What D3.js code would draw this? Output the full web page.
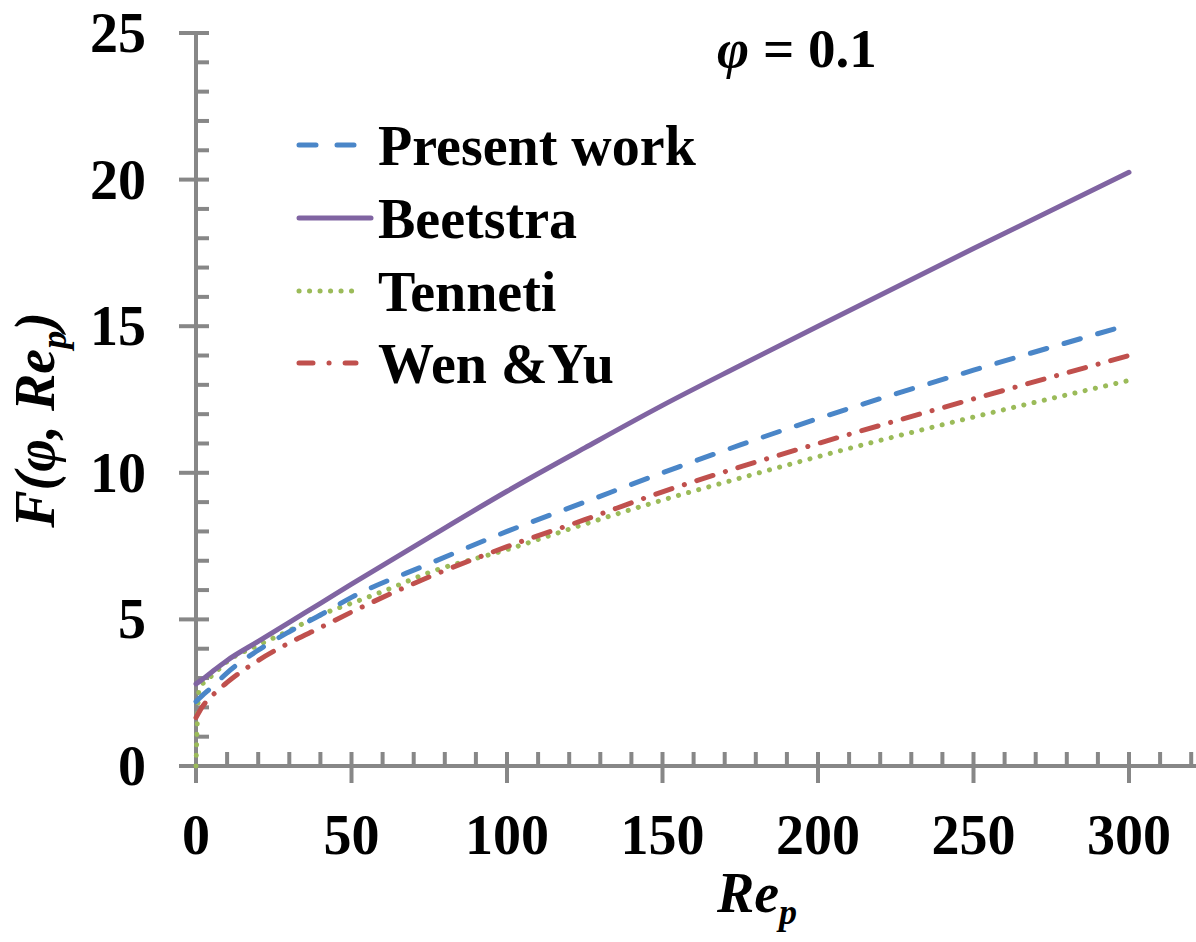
<!DOCTYPE html>
<html>
<head>
<meta charset="utf-8">
<script src="https://cdn.jsdelivr.net/npm/d3@7"></script>
<style>
  body { margin: 0; background: #fff; }
  text { font-family: "Liberation Serif", "Times New Roman", serif; font-weight: bold; fill: #000; }
</style>
</head>
<body>
<div class="chart"></div>
<script>
// Re_p values shared by three of the curves
var reGrid = [0, 2, 5, 10, 20, 30, 40, 50, 75, 100, 125, 150, 175, 200, 250, 300];
var presentWork = [2.2, 2.4, 2.68, 3.18, 3.95, 4.58, 5.15, 5.75, 6.9, 8.0, 9.0, 10.0, 10.95, 11.85, 13.5, 15.05];
var beetstra = [2.8, 2.95, 3.2, 3.6, 4.25, 4.9, 5.55, 6.2, 7.8, 9.37, 10.85, 12.3, 13.66, 15.0, 17.65, 20.25];
var wenYu = [1.65, 2.02, 2.38, 2.85, 3.6, 4.2, 4.72, 5.25, 6.45, 7.48, 8.4, 9.35, 10.2, 11.0, 12.52, 14.0];
// Tenneti has its own Re_p points (drops to 0 at Re_p = 0)
var reTenneti = [0, 1, 3, 5, 10, 20, 30, 40, 50, 60, 75, 100, 125, 150, 175, 200, 250, 300];
var tenneti = [0, 2.6, 2.9, 3.07, 3.56, 4.12, 4.62, 5.15, 5.55, 5.95, 6.6, 7.38, 8.25, 9.07, 9.82, 10.55, 11.9, 13.15];

var seriesNames = ["Present work", "Beetstra", "Tenneti", "Wen &Yu"];
var xTickLabels = [0, 50, 100, 150, 200, 250, 300];
var yTickLabels = [0, 5, 10, 15, 20, 25];

var width = 1196, height = 942;

var xScale = d3.scaleLinear().domain([0, 300]).range([196, 1129]);
var yScale = d3.scaleLinear().domain([0, 25]).range([766, 33]);

var canvas = d3.select(".chart").append("svg")
  .attr("width", width)
  .attr("height", height);

canvas.append("rect").attr("width", width).attr("height", height).attr("fill", "#fff");

var axisColor = "#878787";

// y axis: line, major ticks crossing, minor ticks on the right
var ya = canvas.append("g").attr("class", "y axis");
ya.append("line")
  .attr("x1", xScale(0)).attr("x2", xScale(0))
  .attr("y1", yScale(25)).attr("y2", yScale(0) + 17)
  .attr("stroke", axisColor).attr("stroke-width", 4);
ya.selectAll(".ymin").data(d3.range(0, 26)).enter().append("line")
  .attr("x1", function(d){ return d % 5 == 0 ? xScale(0) - 17 : xScale(0); })
  .attr("x2", xScale(0) + 13)
  .attr("y1", function(d){ return yScale(d); })
  .attr("y2", function(d){ return yScale(d); })
  .attr("stroke", axisColor).attr("stroke-width", 4);
ya.selectAll("text").data(yTickLabels).enter().append("text")
  .attr("x", 146)
  .attr("y", function(d){ return yScale(d) + 19; })
  .attr("text-anchor", "end")
  .attr("font-size", 56)
  .text(function(d){ return d; });

// x axis
var xa = canvas.append("g").attr("class", "x axis");
xa.append("line")
  .attr("x1", xScale(0) - 17).attr("x2", 1196)
  .attr("y1", yScale(0)).attr("y2", yScale(0))
  .attr("stroke", axisColor).attr("stroke-width", 4);
xa.selectAll(".xmin").data(d3.range(0, 321, 10)).enter().append("line")
  .attr("x1", function(d){ return xScale(d); })
  .attr("x2", function(d){ return xScale(d); })
  .attr("y1", yScale(0) - 14)
  .attr("y2", function(d){ return d % 50 == 0 ? yScale(0) + 17 : yScale(0); })
  .attr("stroke", axisColor).attr("stroke-width", 4);
xa.selectAll("text").data(xTickLabels).enter().append("text")
  .attr("x", function(d){ return xScale(d); })
  .attr("y", 854)
  .attr("text-anchor", "middle")
  .attr("font-size", 56)
  .text(function(d){ return d; });

// curves
var line = d3.line()
  .x(function(d){ return xScale(d[0]); })
  .y(function(d){ return yScale(d[1]); })
  .curve(d3.curveMonotoneX);

var styles = [
  {color: "#4A86C8", dash: "17,18"},
  {color: "#8064A2", dash: null},
  {color: "#9BBB59", dash: "0.1,10.4"},
  {color: "#C0504D", dash: "17,13,0.1,13"}
];

var curves = [
  d3.zip(reGrid, presentWork),
  d3.zip(reGrid, beetstra),
  d3.zip(reTenneti, tenneti),
  d3.zip(reGrid, wenYu)
];

// draw order: Tenneti, Wen & Yu, Present work, Beetstra on top
[2, 3, 0, 1].forEach(function(i){
  canvas.append("path")
    .datum(curves[i])
    .attr("d", line)
    .attr("fill", "none")
    .attr("stroke", styles[i].color)
    .attr("stroke-width", 5)
    .attr("stroke-linecap", "round")
    .attr("stroke-dasharray", styles[i].dash);
});

// legend
var legend = canvas.append("g").attr("class", "legend");
var legendY = [145, 218, 291, 363];
seriesNames.forEach(function(name, i){
  legend.append("line")
    .attr("x1", 299).attr("x2", i == 1 ? 371 : 356)
    .attr("y1", legendY[i]).attr("y2", legendY[i])
    .attr("stroke", styles[i].color)
    .attr("stroke-width", 5)
    .attr("stroke-linecap", "round")
    .attr("stroke-dasharray", i == 0 ? "17,21" : i == 2 ? "0.1,10.4" : i == 3 ? "14,16,0.1,16" : null);
  legend.append("text")
    .attr("x", 378)
    .attr("y", legendY[i] + 20)
    .attr("font-size", 56)
    .text(name);
});

// annotation
var ann = canvas.append("text")
  .attr("x", 717).attr("y", 67)
  .attr("font-size", 55);
ann.append("tspan").attr("font-style", "italic").text("\u03C6");
ann.append("tspan").text(" = 0.1");

// axis titles
var xt = canvas.append("text")
  .attr("x", 757).attr("y", 912)
  .attr("text-anchor", "middle")
  .attr("font-size", 56)
  .attr("font-style", "italic");
xt.append("tspan").text("Re");
xt.append("tspan").attr("font-size", 36).attr("dy", 12).text("p");

var yt = canvas.append("text")
  .attr("transform", "translate(54,420) rotate(-90)")
  .attr("text-anchor", "middle")
  .attr("font-size", 56)
  .attr("font-style", "italic");
yt.append("tspan").text("F(\u03C6, Re");
yt.append("tspan").attr("font-size", 36).attr("dy", 12).text("p");
yt.append("tspan").attr("dy", -12).text(")");
</script>
</body>
</html>
